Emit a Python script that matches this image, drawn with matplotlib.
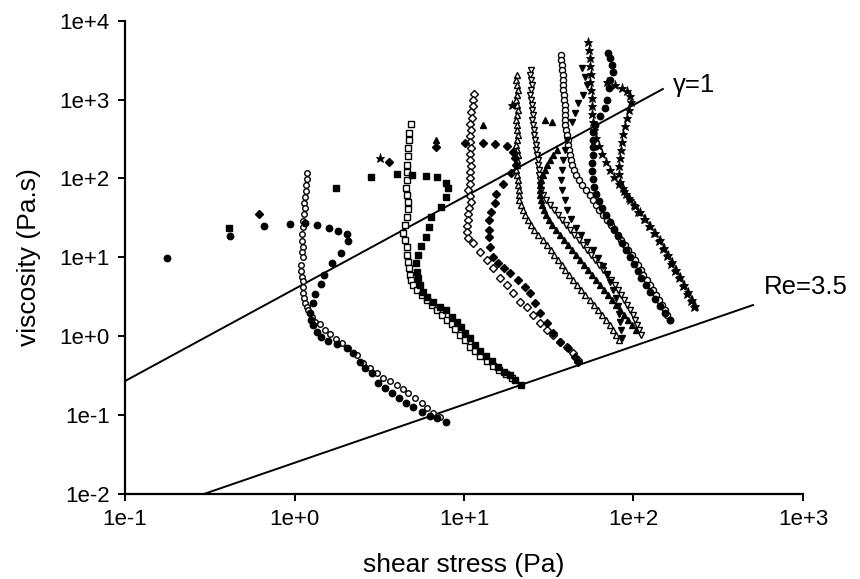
import matplotlib
matplotlib.use("Agg")
import matplotlib.pyplot as plt
from matplotlib.ticker import FixedLocator, NullLocator

plt.rcParams['font.family'] = ['Liberation Sans', 'DejaVu Sans']

# ---- flow curves: shear stress (Pa) vs viscosity (Pa.s) ----
# open circles, low concentration
oc1_tau = [1.18, 1.18, 1.169, 1.164, 1.153, 1.142, 1.153, 1.142, 1.127, 1.127, 1.103, 1.112,
           1.118, 1.112, 1.118, 1.088, 1.092, 1.103, 1.127, 1.118, 1.118, 1.142, 1.153, 1.18,
           1.201, 1.268, 1.321, 1.414, 1.514, 1.620, 1.757, 1.906, 2.069, 2.338, 2.536, 2.789,
           3.067, 3.327, 3.659, 4.025, 4.366, 4.674, 5.14, 5.652, 6.05, 6.56, 7.22]
oc1_eta = [118, 97.4, 82.5, 69.8, 58.6, 49.2, 41.7, 35.0, 29.1, 24.0, 19.5, 16.2,
           13.6, 11.7, 10.0, 7.96, 6.74, 5.65, 4.99, 4.22, 3.54, 3.01, 2.60, 2.31,
           2.138, 1.742, 1.505, 1.420, 1.191, 1.060, 0.916, 0.815, 0.704, 0.574, 0.454, 0.393,
           0.339, 0.293, 0.269, 0.239, 0.213, 0.189, 0.163, 0.141, 0.122, 0.105, 0.0938]

# filled circles, low concentration
fc1_tau = [0.177, 0.416, 0.661, 0.94, 1.153, 1.357, 1.598, 1.806, 2.04, 2.07, 1.88, 1.664,
           1.493, 1.433, 1.321, 1.286, 1.234, 1.251, 1.286, 1.357, 1.433, 1.576, 1.781, 2.04,
           2.214, 2.435, 2.605, 2.866, 3.109, 3.42, 3.761, 4.136, 4.549, 5.003, 5.652, 6.302,
           6.93, 7.83]
fc1_eta = [9.77, 18.6, 24.9, 26.4, 27.2, 25.6, 23.5, 21.5, 19.7, 16.1, 11.3, 8.44,
           5.94, 4.57, 3.41, 2.62, 1.958, 1.596, 1.379, 1.124, 0.971, 0.864, 0.791, 0.704,
           0.608, 0.468, 0.393, 0.339, 0.253, 0.219, 0.189, 0.163, 0.141, 0.126, 0.109, 0.0966,
           0.0911, 0.081]

# open squares
os_tau = [4.87, 4.74, 4.74, 4.67, 4.67, 4.61, 4.61, 4.61, 4.55, 4.61, 4.67, 4.67,
          4.61, 4.49, 4.37, 4.49, 4.61, 4.61, 4.67, 4.74, 4.80, 4.87, 5.00, 5.28,
          5.65, 6.05, 6.48, 6.93, 7.42, 7.94, 8.50, 8.85, 9.47, 10.1, 10.85, 11.6,
          12.4, 13.7, 14.8, 16.1, 17.7, 19.2]
os_eta = [490, 377, 307, 243, 192, 148, 121, 95.4, 75.5, 61.6, 50.2, 40.9,
          32.4, 25.6, 20.3, 16.5, 13.5, 10.7, 8.69, 7.29, 5.94, 5.14, 4.44, 3.83,
          3.31, 2.86, 2.47, 2.14, 1.847, 1.596, 1.42, 1.227, 1.03, 0.890, 0.725, 0.645,
          0.558, 0.482, 0.416, 0.370, 0.329, 0.293]

# filled squares
fs_tau = [0.411, 1.757, 2.828, 4.025, 4.934, 5.97, 6.93, 7.83, 8.05, 7.83, 7.32, 6.39,
          6.22, 5.97, 5.58, 5.35, 5.21, 5.28, 5.35, 5.50, 5.73, 6.05, 6.56, 7.22,
          7.83, 8.50, 9.09, 9.60, 10.1, 10.85, 11.6, 12.4, 13.5, 14.6, 15.9, 17.2,
          18.7, 20.0, 21.7]
fs_eta = [23.5, 75.5, 104, 114, 110, 107, 104, 87.4, 75.5, 58.1, 43.4, 32.4,
          24.2, 18.0, 13.9, 10.7, 8.44, 6.49, 5.45, 4.44, 3.62, 3.13, 2.70, 2.33,
          2.14, 1.74, 1.505, 1.30, 1.09, 0.943, 0.769, 0.645, 0.558, 0.482, 0.404, 0.349,
          0.320, 0.277, 0.239]

# open diamonds
od_tau = [11.46, 11.3, 11.3, 11.0, 11.15, 10.85, 11.0, 10.85, 10.85, 11.0, 10.85, 10.85,
          11.0, 10.85, 10.85, 10.85, 10.56, 10.85, 11.0, 10.7, 10.56, 10.56, 10.4, 10.4,
          10.56, 11.3, 12.4, 13.7, 14.8, 16.3, 17.9, 19.5, 21.4, 23.5, 25.5, 28.1,
          30.9, 33.5, 36.9, 40.5, 44.0, 47.1]
od_eta = [1178, 988, 829, 696, 584, 490, 411, 345, 290, 243, 204, 171,
          144, 121, 101, 84.9, 71.2, 59.8, 50.2, 42.1, 35.3, 29.7, 24.9, 20.9,
          17.5, 15.1, 11.6, 9.21, 7.29, 5.45, 4.44, 3.51, 2.70, 2.33, 1.847, 1.462,
          1.191, 1.03, 0.839, 0.725, 0.608, 0.496]

# filled diamonds
fd_tau = [0.617, 3.61, 6.84, 10.1, 12.95, 15.2, 17.9, 19.5, 20.0, 20.3, 18.9, 17.0,
          15.5, 15.2, 14.4, 14.0, 14.0, 14.0, 14.2, 14.8, 15.9, 17.2, 18.7, 20.8,
          22.9, 24.5, 26.2, 28.1, 30.9, 33.5, 36.9, 41.1, 45.2, 47.1]
fd_eta = [35.3, 161, 250, 281, 281, 273, 258, 216, 182, 148, 117, 84.9,
          63.4, 48.7, 37.5, 29.7, 22.1, 18.0, 13.5, 10.1, 8.44, 7.29, 6.30, 5.14,
          4.19, 3.51, 2.62, 1.958, 1.462, 1.09, 0.839, 0.704, 0.541, 0.468]

# open up-triangles
out_tau = [20.5, 20.3, 20.5, 20.8, 20.5, 20.3, 20.5, 20.8, 20.5, 20.3, 20.5, 20.5,
           20.8, 20.5, 20.3, 20.5, 20.8, 20.5, 20.5, 20.3, 20.5, 20.8, 20.8, 21.1, 21.1,
           21.1, 21.7, 22.3, 22.9, 23.9, 24.9, 25.9, 27.3, 29.3, 30.9, 32.6, 33.9,
           35.9, 37.9, 39.4, 41.6, 44.0, 46.4, 49.1, 51.8, 55.4, 58.5, 61.7, 65.1,
           68.8, 72.7, 75.7, 78.9, 82.2]
out_eta = [2050, 1773, 1532, 1324, 1144, 988, 854, 738, 638, 551, 476, 411,
           355, 307, 265, 229, 198, 171, 148, 128, 110, 95.4, 82.5, 71.2, 61.6,
           53.2, 46.0, 39.7, 34.3, 29.7, 25.6, 22.1, 19.1, 16.5, 14.3, 12.3, 10.7,
           9.21, 7.96, 6.88, 5.94, 5.14, 4.44, 3.83, 3.31, 2.86, 2.47, 2.14, 1.847,
           1.596, 1.379, 1.191, 1.03, 0.890]

# open down-triangles
odt_tau = [24.8, 24.5, 24.8, 25.2, 24.8, 24.5, 24.8, 25.2, 25.2, 25.5, 25.2, 25.5,
           25.9, 25.9, 26.2, 26.6, 26.6, 27.0, 27.3, 27.3, 27.7, 27.7, 28.1, 28.1,
           28.5, 29.3, 30.5, 32.2, 33.9, 35.9, 37.9, 39.9, 42.2, 44.6, 47.7, 50.4,
           53.2, 56.2, 59.3, 62.5, 66.1, 69.8, 73.7, 77.8, 81.0, 84.4, 87.9, 91.5,
           95.4, 99.3, 102, 105, 108, 111]
odt_eta = [2375, 2050, 1773, 1532, 1324, 1144, 988, 854, 738, 638, 551, 476,
           411, 355, 307, 265, 229, 198, 171, 148, 128, 110, 95.4, 82.5,
           71.2, 61.6, 53.2, 46.0, 39.7, 34.3, 29.7, 25.6, 22.1, 19.1, 16.5, 14.3,
           12.3, 10.7, 9.21, 7.96, 6.88, 5.94, 5.14, 4.44, 3.83, 3.31, 2.86, 2.47,
           2.14, 1.847, 1.596, 1.379, 1.191, 1.03]

# filled up-triangles
fut_tau = [6.84, 12.95, 30.1, 33.0,
           35.4, 33.5, 32.2, 30.9, 30.1, 29.3, 28.5, 28.1, 28.1, 28.1, 28.5, 28.9,
           29.7, 30.5, 31.8, 33.0, 35.0, 36.9, 38.9, 41.1, 43.4, 45.8, 48.4, 51.1,
           53.9, 56.9, 60.1, 63.4, 67.0, 70.7, 74.7, 78.9, 83.3, 87.9, 92.8, 98.0, 103]
fut_eta = [307, 476, 551, 519,
           229, 198, 171, 148, 128, 110, 95.4, 82.5, 71.2, 61.6, 53.2, 46.0,
           39.7, 34.3, 29.7, 25.6, 22.1, 19.1, 16.5, 14.3, 12.3, 10.7, 9.21, 7.96,
           6.88, 5.94, 5.14, 4.44, 3.83, 3.31, 2.86, 2.47, 2.14, 1.847, 1.596, 1.379, 1.191]

# filled down-triangles
fdt_tau = [49.7, 51.8, 53.2, 50.4, 47.1, 45.2, 43.4, 40.5, 39.4, 38.4, 37.9, 37.4,
           37.9, 39.4, 40.5, 42.8, 45.8, 49.1, 53.2, 57.7, 61.7, 66.1, 69.8, 72.7,
           75.7, 78.9, 81.0, 82.2, 83.3, 84.4, 85.6]
fdt_eta = [2520, 1930, 1532, 1144, 905, 677, 520, 307, 229, 171, 128, 95.4,
           71.2, 53.2, 39.7, 30.6, 23.4, 19.1, 15.6, 12.3, 9.77, 7.73, 6.12, 4.85,
           3.83, 3.03, 2.40, 1.90, 1.505, 1.191, 0.944]

# open circles, high concentration
oc2_tau = [37.4, 37.4, 37.9, 37.9, 38.4, 38.4, 38.4, 38.4, 38.9, 38.9, 39.4, 39.4,
           39.4, 39.4, 39.4, 39.9, 40.5, 41.1, 41.1, 41.6, 42.2, 42.8, 43.4, 44.6,
           45.8, 47.7, 49.7, 52.5, 55.4, 57.7, 60.1, 62.5, 66.1, 69.8, 73.7, 76.7,
           81.0, 84.4, 89.1, 92.8, 98.0, 102, 106, 110, 114, 120, 125, 130,
           136, 141, 147, 153, 157, 164]
oc2_eta = [3680, 3180, 2750, 2375, 2050, 1773, 1532, 1324, 1144, 988, 854, 738,
           638, 551, 476, 411, 355, 307, 265, 229, 198, 171, 148, 128,
           110, 95.4, 82.5, 71.2, 61.6, 53.2, 46.0, 39.7, 34.3, 29.7, 25.6, 22.1,
           19.1, 16.5, 14.3, 12.3, 10.7, 9.21, 7.96, 6.88, 5.94, 5.14, 4.44, 3.83,
           3.31, 2.86, 2.47, 2.14, 1.847, 1.596]

# filled circles, high concentration
fc2_tau = [70.7, 72.7, 74.7, 75.7, 72.7, 71.7, 69.8, 67.9, 63.4, 59.3, 57.7, 57.7,
           57.7, 57.7, 56.9, 56.9, 57.7, 58.5, 60.1, 62.5, 65.1, 68.8, 72.7, 76.7,
           81.0, 85.6, 90.3, 95.4, 101, 106, 111, 119, 125, 134, 143, 153, 164]
fc2_eta = [3900, 3370, 2750, 2240, 1773, 1403, 988, 782, 620, 476, 388, 307,
           250, 198, 157, 124, 98.2, 77.8, 63.4, 51.7, 42.1, 34.3, 28.0, 22.8,
           18.5, 15.2, 12.3, 10.0, 8.20, 6.68, 5.45, 4.44, 3.62, 2.94, 2.40, 1.958, 1.596]

# stars
st1_tau = [3.19, 19.2,
           53.9, 54.6, 55.4, 55.4, 56.2, 55.4, 56.2, 56.9, 56.9, 56.9, 57.7, 58.5,
           60.1, 62.5, 65.1, 68.8, 72.7, 76.7, 82.2, 87.9, 94.1, 101, 107, 115,
           123, 132, 141, 149, 157, 166, 176, 185, 196, 207, 218, 227]
st1_eta = [182, 854,
           5390, 4260, 3370, 2670, 2110, 1672, 1324, 1048, 829, 657, 520, 411,
           326, 257, 204, 161, 128, 104, 84.9, 69.1, 56.4, 46.0, 37.5, 30.6,
           24.9, 20.3, 16.1, 12.7, 10.4, 8.20, 6.68, 5.45, 4.31, 3.41, 2.78, 2.31]

st2_tau = [69.8, 77.8, 85.6, 91.5, 95.4, 96.7, 94.1, 91.5, 89.1, 86.8, 85.6, 84.4,
           83.3, 82.2, 82.2, 83.3, 86.8, 90.3, 95.4, 102, 109, 117, 125, 134,
           143, 151, 160, 169, 178, 188, 199, 210, 221, 231]
st2_eta = [1672, 1532, 1403, 1286, 1111, 932, 738, 584, 462, 366, 290, 229,
           181, 144, 113, 90.0, 75.5, 63.4, 53.2, 44.7, 37.5, 30.6, 24.9, 20.3,
           16.5, 13.0, 10.7, 8.69, 6.88, 5.60, 4.44, 3.62, 2.86, 2.40]

# reference lines
gamma1_tau = [0.1, 149]
gamma1_eta = [0.268, 1363]
re35_tau = [0.2965, 507]
re35_eta = [0.01, 2.47]

x_ticks = [0.1, 1, 10, 100, 1000]
x_labels = ["1e-1", "1e+0", "1e+1", "1e+2", "1e+3"]
y_ticks = [0.01, 0.1, 1, 10, 100, 1000, 10000]
y_labels = ["1e-2", "1e-1", "1e+0", "1e+1", "1e+2", "1e+3", "1e+4"]

fig = plt.figure(figsize=(8.6, 5.79), dpi=100)
ax = fig.add_axes([0.14535, 0.14749, 0.78837, 0.81658])
ax.set_xscale('log')
ax.set_yscale('log')
ax.set_xlim(0.1, 1000)
ax.set_ylim(0.01, 10000)

ax.plot(gamma1_tau, gamma1_eta, color='black', lw=1.4, zorder=1)
ax.plot(re35_tau, re35_eta, color='black', lw=1.4, zorder=1)


def pts(tau, eta, marker, filled, ms, mew=1.0):
    ax.plot(tau, eta, linestyle='none', marker=marker, ms=ms,
            mfc='black' if filled else 'white', mec='black', mew=mew,
            zorder=3, clip_on=False)


pts(out_tau, out_eta, '^', False, 5.0)
pts(odt_tau, odt_eta, 'v', False, 5.0)
pts(oc2_tau, oc2_eta, 'o', False, 4.4)
pts(od_tau, od_eta, 'D', False, 3.7)
pts(os_tau, os_eta, 's', False, 4.8)
pts(oc1_tau, oc1_eta, 'o', False, 4.0)
pts(fut_tau, fut_eta, '^', True, 5.0)
pts(fdt_tau, fdt_eta, 'v', True, 5.0)
pts(fc2_tau, fc2_eta, 'o', True, 4.6)
pts(fd_tau, fd_eta, 'D', True, 3.8)
pts(fs_tau, fs_eta, 's', True, 4.8)
pts(fc1_tau, fc1_eta, 'o', True, 4.6)
pts(st1_tau, st1_eta, '*', True, 6.5, 0.6)
pts(st2_tau, st2_eta, '*', True, 6.5, 0.6)

ax.text(171, 1532, "γ=1", fontsize=18.5, ha='left', va='center')
ax.text(589, 4.19, "Re=3.5", fontsize=18.5, ha='left', va='center', clip_on=False)

ax.xaxis.set_major_locator(FixedLocator(x_ticks))
ax.yaxis.set_major_locator(FixedLocator(y_ticks))
ax.xaxis.set_minor_locator(NullLocator())
ax.yaxis.set_minor_locator(NullLocator())
ax.set_xticklabels(x_labels)
ax.set_yticklabels(y_labels)
ax.tick_params(axis='both', which='major', direction='out', length=5, width=1.4,
               labelsize=16, pad=6, color='black')

for side in ('top', 'right'):
    ax.spines[side].set_visible(False)
for side in ('left', 'bottom'):
    ax.spines[side].set_linewidth(1.6)

ax.set_xlabel("shear stress (Pa)", fontsize=19, labelpad=17)
ax.set_ylabel("viscosity (Pa.s)", fontsize=19, labelpad=13)

fig.savefig("out.png", dpi=100)
